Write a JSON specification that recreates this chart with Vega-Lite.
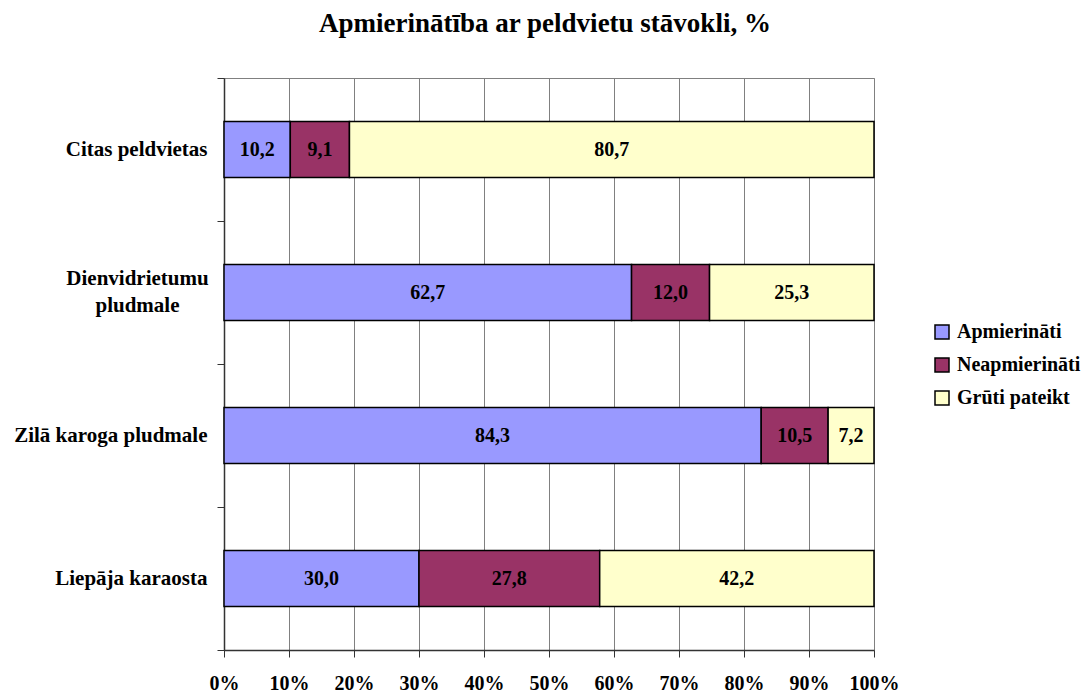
{
  "$schema": "https://vega.github.io/schema/vega-lite/v6.json",
  "autosize": {"type": "none"},
  "width": 650,
  "height": 572,
  "padding": {"left": 224, "top": 78, "right": 210, "bottom": 43},
  "background": "white",
  "title": {
    "text": "Apmierinātība ar peldvietu stāvokli, %",
    "font": "Liberation Serif",
    "fontSize": 27,
    "fontWeight": "bold",
    "color": "black",
    "anchor": "middle",
    "offset": 29,
    "dx": -4
  },
  "data": {
    "values": [
      {"place": "Citas peldvietas", "resp": "Apmierināti", "order": 1, "value": 10.2},
      {"place": "Citas peldvietas", "resp": "Neapmierināti", "order": 2, "value": 9.1},
      {"place": "Citas peldvietas", "resp": "Grūti pateikt", "order": 3, "value": 80.7},
      {"place": "Dienvidrietumu pludmale", "resp": "Apmierināti", "order": 1, "value": 62.7},
      {"place": "Dienvidrietumu pludmale", "resp": "Neapmierināti", "order": 2, "value": 12.0},
      {"place": "Dienvidrietumu pludmale", "resp": "Grūti pateikt", "order": 3, "value": 25.3},
      {"place": "Zilā karoga pludmale", "resp": "Apmierināti", "order": 1, "value": 84.3},
      {"place": "Zilā karoga pludmale", "resp": "Neapmierināti", "order": 2, "value": 10.5},
      {"place": "Zilā karoga pludmale", "resp": "Grūti pateikt", "order": 3, "value": 7.2},
      {"place": "Liepāja karaosta", "resp": "Apmierināti", "order": 1, "value": 30.0},
      {"place": "Liepāja karaosta", "resp": "Neapmierināti", "order": 2, "value": 27.8},
      {"place": "Liepāja karaosta", "resp": "Grūti pateikt", "order": 3, "value": 42.2}
    ]
  },
  "transform": [
    {"stack": "value", "groupby": ["place"], "sort": [{"field": "order"}], "offset": "normalize", "as": ["v0", "v1"]},
    {"calculate": "(datum.v0 + datum.v1) / 2", "as": "mid"},
    {"calculate": "replace(format(datum.value, '.1f'), '.', ',')", "as": "lbl"}
  ],
  "encoding": {
    "y": {
      "field": "place",
      "type": "nominal",
      "sort": ["Citas peldvietas", "Dienvidrietumu pludmale", "Zilā karoga pludmale", "Liepāja karaosta"],
      "scale": {"paddingInner": 0, "paddingOuter": 0},
      "axis": {
        "title": null,
        "tickBand": "extent",
        "tickSize": 7,
        "tickColor": "#333333",
        "domainColor": "#333333",
        "domainWidth": 1.5,
        "labelPadding": {"condition": {"test": "datum.value == 'Dienvidrietumu pludmale'", "value": 80}, "value": 10},
        "labelAlign": {"condition": {"test": "datum.value == 'Dienvidrietumu pludmale'", "value": "center"}, "value": "right"},
        "labelOffset": {"condition": {"test": "datum.value == 'Dienvidrietumu pludmale'", "value": -14}, "value": 0},
        "labelFont": "Liberation Serif",
        "labelFontSize": 21,
        "labelFontWeight": "bold",
        "labelColor": "black",
        "labelLineHeight": 27,
        "labelLimit": 300,
        "labelExpr": "datum.label == 'Dienvidrietumu pludmale' ? ['Dienvidrietumu', 'pludmale'] : datum.label"
      }
    }
  },
  "layer": [
    {
      "mark": {"type": "bar", "stroke": "black", "strokeWidth": 1.5, "height": {"band": 0.392}},
      "encoding": {
        "x": {
          "field": "v0",
          "type": "quantitative",
          "scale": {"domain": [0, 1], "nice": false},
          "axis": {
            "title": null,
            "format": ".0%",
            "values": [0, 0.1, 0.2, 0.3, 0.4, 0.5, 0.6, 0.7, 0.8, 0.9, 1],
            "grid": true,
            "gridColor": "#808080",
            "gridWidth": 1,
            "tickSize": 7,
            "tickColor": "#333333",
            "domainColor": "#333333",
            "domainWidth": 1.5,
            "labelBaseline": "alphabetic",
            "labelPadding": 32,
            "labelFont": "Liberation Serif",
            "labelFontSize": 20,
            "labelFontWeight": "bold",
            "labelColor": "black",
            "labelFlush": false,
            "labelOverlap": false
          }
        },
        "x2": {"field": "v1"},
        "color": {
          "field": "resp",
          "type": "nominal",
          "sort": ["Apmierināti", "Neapmierināti", "Grūti pateikt"],
          "scale": {"domain": ["Apmierināti", "Neapmierināti", "Grūti pateikt"], "range": ["#9999FF", "#993366", "#FFFFCC"]},
          "legend": {
            "title": null,
            "orient": "none",
            "legendX": 708,
            "legendY": 244,
            "padding": 0,
            "symbolType": "square",
            "symbolSize": 196,
            "symbolStrokeColor": "black",
            "symbolStrokeWidth": 1.5,
            "symbolOpacity": 1,
            "labelFont": "Liberation Serif",
            "labelFontSize": 20,
            "labelFontWeight": "bold",
            "labelColor": "black",
            "labelOffset": 5,
            "rowPadding": 13,
            "labelLimit": 300
          }
        },
        "order": {"field": "order"}
      }
    },
    {
      "mark": {"type": "text", "font": "Liberation Serif", "fontSize": 20, "fontWeight": "bold", "color": "black", "baseline": "middle", "align": "center"},
      "encoding": {
        "x": {"field": "mid", "type": "quantitative"},
        "text": {"field": "lbl"}
      }
    }
  ],
  "config": {
    "view": {"stroke": "#808080", "strokeWidth": 1}
  }
}
